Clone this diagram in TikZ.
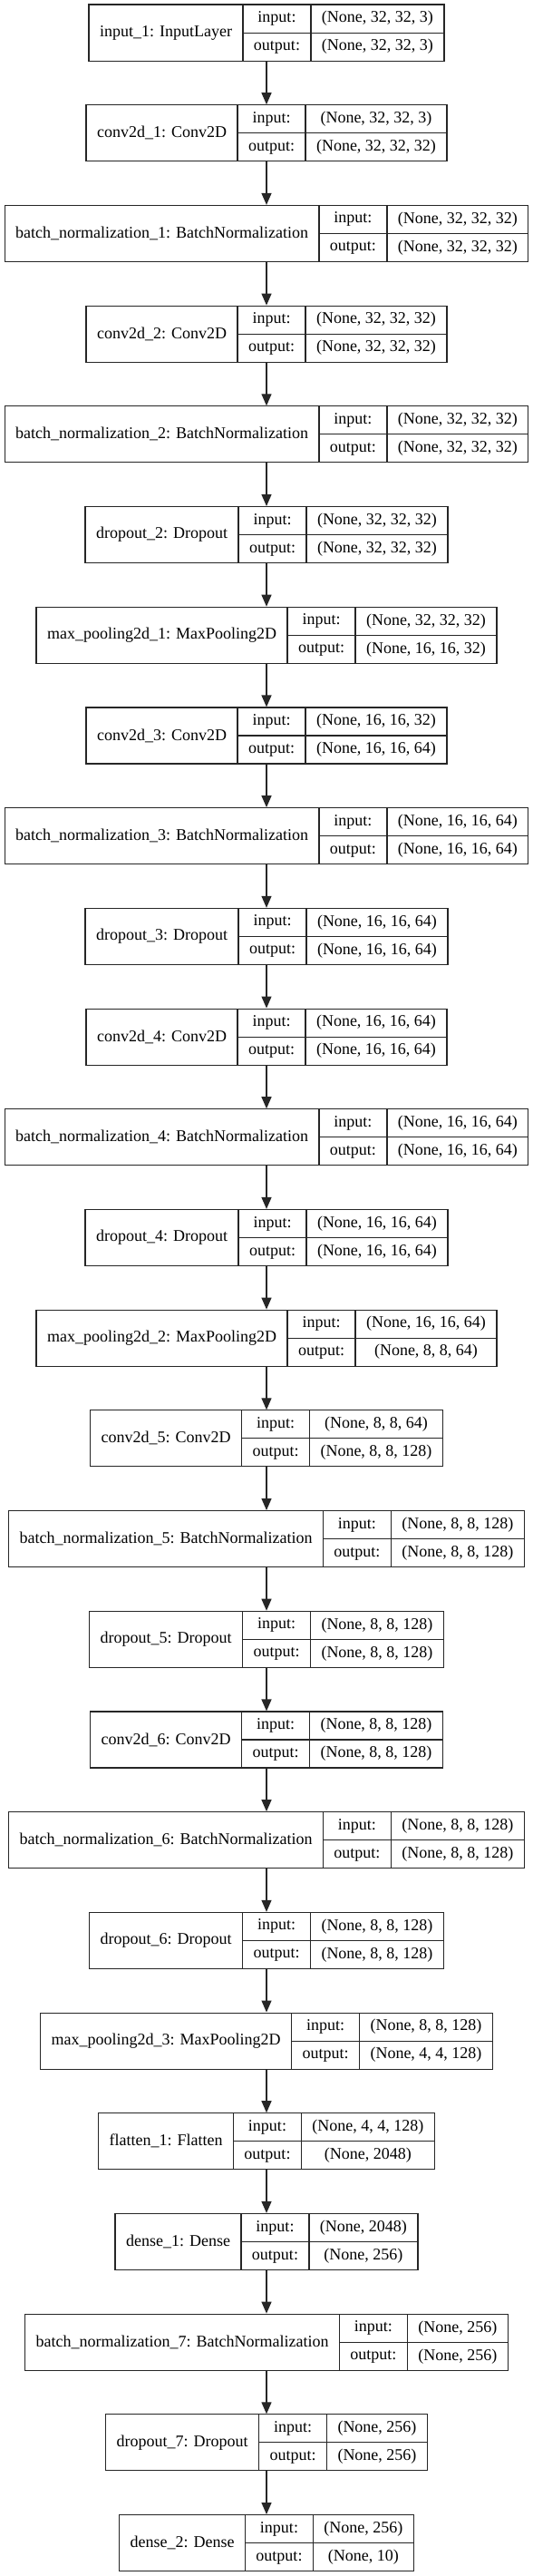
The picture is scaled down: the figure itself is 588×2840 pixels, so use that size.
\documentclass[tikz,border=0pt]{standalone}
\usepackage{fontspec}
\setmainfont{Liberation Serif}
\usepackage{tikz}
\usetikzlibrary{%
    matrix,
    arrows.meta,
    positioning
}

% one Keras layer: name, placement, label, input shape, output shape
\newcommand{\layer}[5]{%
    \matrix (#1) [layer, #2] {
        \node (#1-l) {#3}; \&
        \node (#1-io) {input:\\output:}; \&
        \node (#1-sh) {#4\\#5}; \\
    };
    \draw [cut] (#1-io.west) -- (#1-sh.east);
}

\begin{document}
\begin{tikzpicture}[auto, node distance=47.6bp, font=\fontsize{18bp}{31bp}\selectfont,
                cell/.style={rectangle, draw=black!85, line width=1.1bp, minimum height=62bp,
                    inner xsep=12bp, inner ysep=2bp, align=center},
                layer/.style={matrix, inner sep=0pt, outer sep=0pt, column sep=-1.1bp,
                    ampersand replacement=\&, nodes={cell}},
                cut/.style={draw=black!85, line width=1.1bp},
                flow/.style={draw=black!85, line width=1.3bp, -{Triangle[length=13bp, width=11bp]}}
            ]
            \useasboundingbox (0,0) rectangle (588bp,-2840bp);

            \layer{input1}{anchor=north, at={(294bp,-4.5bp)}}{input\_1: InputLayer}{(None, 32, 32, 3)}{(None, 32, 32, 3)}
            \layer{conv1}{below=of input1}{conv2d\_1: Conv2D}{(None, 32, 32, 3)}{(None, 32, 32, 32)}
            \layer{bn1}{below=of conv1}{batch\_normalization\_1: BatchNormalization}{(None, 32, 32, 32)}{(None, 32, 32, 32)}
            \layer{conv2}{below=of bn1}{conv2d\_2: Conv2D}{(None, 32, 32, 32)}{(None, 32, 32, 32)}
            \layer{bn2}{below=of conv2}{batch\_normalization\_2: BatchNormalization}{(None, 32, 32, 32)}{(None, 32, 32, 32)}
            \layer{drop2}{below=of bn2}{dropout\_2: Dropout}{(None, 32, 32, 32)}{(None, 32, 32, 32)}
            \layer{pool1}{below=of drop2}{max\_pooling2d\_1: MaxPooling2D}{(None, 32, 32, 32)}{(None, 16, 16, 32)}
            \layer{conv3}{below=of pool1}{conv2d\_3: Conv2D}{(None, 16, 16, 32)}{(None, 16, 16, 64)}
            \layer{bn3}{below=of conv3}{batch\_normalization\_3: BatchNormalization}{(None, 16, 16, 64)}{(None, 16, 16, 64)}
            \layer{drop3}{below=of bn3}{dropout\_3: Dropout}{(None, 16, 16, 64)}{(None, 16, 16, 64)}
            \layer{conv4}{below=of drop3}{conv2d\_4: Conv2D}{(None, 16, 16, 64)}{(None, 16, 16, 64)}
            \layer{bn4}{below=of conv4}{batch\_normalization\_4: BatchNormalization}{(None, 16, 16, 64)}{(None, 16, 16, 64)}
            \layer{drop4}{below=of bn4}{dropout\_4: Dropout}{(None, 16, 16, 64)}{(None, 16, 16, 64)}
            \layer{pool2}{below=of drop4}{max\_pooling2d\_2: MaxPooling2D}{(None, 16, 16, 64)}{(None, 8, 8, 64)}
            \layer{conv5}{below=of pool2}{conv2d\_5: Conv2D}{(None, 8, 8, 64)}{(None, 8, 8, 128)}
            \layer{bn5}{below=of conv5}{batch\_normalization\_5: BatchNormalization}{(None, 8, 8, 128)}{(None, 8, 8, 128)}
            \layer{drop5}{below=of bn5}{dropout\_5: Dropout}{(None, 8, 8, 128)}{(None, 8, 8, 128)}
            \layer{conv6}{below=of drop5}{conv2d\_6: Conv2D}{(None, 8, 8, 128)}{(None, 8, 8, 128)}
            \layer{bn6}{below=of conv6}{batch\_normalization\_6: BatchNormalization}{(None, 8, 8, 128)}{(None, 8, 8, 128)}
            \layer{drop6}{below=of bn6}{dropout\_6: Dropout}{(None, 8, 8, 128)}{(None, 8, 8, 128)}
            \layer{pool3}{below=of drop6}{max\_pooling2d\_3: MaxPooling2D}{(None, 8, 8, 128)}{(None, 4, 4, 128)}
            \layer{flat1}{below=of pool3}{flatten\_1: Flatten}{(None, 4, 4, 128)}{(None, 2048)}
            \layer{dense1}{below=of flat1}{dense\_1: Dense}{(None, 2048)}{(None, 256)}
            \layer{bn7}{below=of dense1}{batch\_normalization\_7: BatchNormalization}{(None, 256)}{(None, 256)}
            \layer{drop7}{below=of bn7}{dropout\_7: Dropout}{(None, 256)}{(None, 256)}
            \layer{dense2}{below=of drop7}{dense\_2: Dense}{(None, 256)}{(None, 10)}

            \draw [flow] (input1) -- (conv1);
            \draw [flow] (conv1) -- (bn1);
            \draw [flow] (bn1) -- (conv2);
            \draw [flow] (conv2) -- (bn2);
            \draw [flow] (bn2) -- (drop2);
            \draw [flow] (drop2) -- (pool1);
            \draw [flow] (pool1) -- (conv3);
            \draw [flow] (conv3) -- (bn3);
            \draw [flow] (bn3) -- (drop3);
            \draw [flow] (drop3) -- (conv4);
            \draw [flow] (conv4) -- (bn4);
            \draw [flow] (bn4) -- (drop4);
            \draw [flow] (drop4) -- (pool2);
            \draw [flow] (pool2) -- (conv5);
            \draw [flow] (conv5) -- (bn5);
            \draw [flow] (bn5) -- (drop5);
            \draw [flow] (drop5) -- (conv6);
            \draw [flow] (conv6) -- (bn6);
            \draw [flow] (bn6) -- (drop6);
            \draw [flow] (drop6) -- (pool3);
            \draw [flow] (pool3) -- (flat1);
            \draw [flow] (flat1) -- (dense1);
            \draw [flow] (dense1) -- (bn7);
            \draw [flow] (bn7) -- (drop7);
            \draw [flow] (drop7) -- (dense2);
        \end{tikzpicture}
\end{document}
